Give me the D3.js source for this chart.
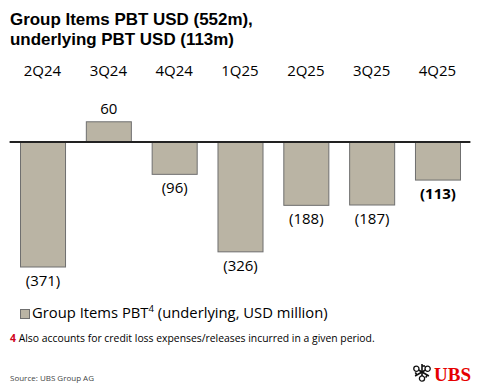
<!DOCTYPE html>
<html><head><meta charset="utf-8">
<script src="https://cdn.jsdelivr.net/npm/d3@7"></script>
<style>
html,body{margin:0;padding:0;background:#fff;}
svg{display:block;font-family:"Open Sans","Noto Sans",sans-serif;}
</style></head>
<body>
<svg id="c" width="480" height="392"></svg>
<script>
const categories = ["2Q24","3Q24","4Q24","1Q25","2Q25","3Q25","4Q25"];
const values = [-371, 60, -96, -326, -188, -187, -113];
const valueLabels = ["(371)","60","(96)","(326)","(188)","(187)","(113)"];
const boldLabel = [false,false,false,false,false,false,true];
const titleLines = ["Group Items PBT USD (552m),","underlying PBT USD (113m)"];
const legendLabel = "Group Items PBT";
const legendSup = "4";
const legendRest = " (underlying, USD million)";
const footNum = "4";
const footText = "Also accounts for credit loss expenses/releases incurred in a given period.";
const sourceText = "Source: UBS Group AG";

const svg = d3.select("#c");
const barFill = "#bab4a4", barStroke = "#6f6f6f";

function fit(sel, target){
  const fs = +sel.attr("font-size");
  const w = sel.node().getComputedTextLength();
  if (w > 0) sel.attr("font-size", fs*target/w);
}

// title
const titleFont = "'Liberation Sans',Arial,sans-serif";
const t1 = svg.append("text").attr("x",10).attr("y",24.5)
  .attr("font-family",titleFont).attr("font-size",18).attr("font-weight","bold").attr("fill","#000").text(titleLines[0]);
fit(t1, 243);
svg.append("text").attr("x",10).attr("y",45)
  .attr("font-family",titleFont).attr("font-size",t1.attr("font-size")).attr("font-weight","bold").attr("fill","#000").text(titleLines[1]);

const x = d3.scaleBand().domain(categories).range([9.6,470.4]).paddingInner(0.316).paddingOuter(0.158);
const k = 125/371;
const y = d3.scaleLinear().domain([-400,100]).range([142+400*k, 142-100*k]);

// category labels
svg.selectAll("text.cat").data(categories).join("text")
  .attr("class","cat")
  .attr("x",d=>x(d)+x.bandwidth()/2).attr("y",76)
  .attr("text-anchor","middle").attr("font-size",15).attr("fill","#000")
  .text(d=>d);

// bars
svg.selectAll("rect.bar").data(values).join("rect")
  .attr("class","bar")
  .attr("x",(d,i)=>x(categories[i])+0.5)
  .attr("y",d=>y(Math.max(0,d)))
  .attr("width",x.bandwidth())
  .attr("height",d=>Math.abs(y(d)-y(0)))
  .attr("fill",barFill).attr("stroke",barStroke).attr("stroke-width",1);

// zero line
svg.append("line").attr("x1",x.range()[0]).attr("x2",x.range()[1])
  .attr("y1",y(0)).attr("y2",y(0)).attr("stroke","#222").attr("stroke-width",2);

// value labels
svg.selectAll("text.val").data(values).join("text")
  .attr("class","val")
  .attr("x",(d,i)=>x(categories[i])+x.bandwidth()/2+0.5)
  .attr("y",d=>d>=0 ? y(d)-8 : y(d)+19)
  .attr("text-anchor","middle").attr("font-size",15)
  .attr("font-weight",(d,i)=>boldLabel[i]?"bold":"normal")
  .attr("fill","#000")
  .text((d,i)=>valueLabels[i]);

// legend
svg.append("rect").attr("x",20.5).attr("y",309.5).attr("width",9).attr("height",9)
  .attr("fill",barFill).attr("stroke",barStroke).attr("stroke-width",1);
const lt = svg.append("text").attr("x",32).attr("y",318).attr("font-size",17).attr("fill","#000");
lt.append("tspan").text(legendLabel);
lt.append("tspan").attr("font-size",11).attr("dy",-6).text(legendSup);
lt.append("tspan").attr("dy",6).text(legendRest);
{
  const w = lt.node().getComputedTextLength();
  const s = 296/w;
  lt.attr("font-size",17*s);
  lt.selectAll("tspan").filter((d,i)=>i===1).attr("font-size",11*s);
}

// footnote
const ft = svg.append("text").attr("x",10).attr("y",342).attr("font-size",11.5).attr("fill","#000");
ft.append("tspan").attr("fill","#d0021b").attr("font-weight","bold").text(footNum);
ft.append("tspan").text(" "+footText);
fit(ft, 365);

// source
svg.append("text").attr("x",10).attr("y",381).attr("font-size",8).attr("fill","#444").text(sourceText);

// logo
svg.append("text").attr("x",471).attr("y",381).attr("text-anchor","end")
  .attr("font-family","'Liberation Serif','DejaVu Serif',serif").attr("font-weight","bold")
  .attr("font-size",19).attr("fill","#e60000").text("UBS");
const g = svg.append("g").attr("transform","translate(422,372)").attr("stroke","#111").attr("fill","none").attr("stroke-width",1.6);
[-90,30,150].forEach(a=>{
  const r=a*Math.PI/180;
  g.append("line").attr("x1",Math.cos(r)*-4).attr("y1",Math.sin(r)*-4).attr("x2",Math.cos(r)*8).attr("y2",Math.sin(r)*8);
  g.append("circle").attr("cx",Math.cos(r)*-6.5).attr("cy",Math.sin(r)*-6.5).attr("r",2.6).attr("stroke-width",1.3);
  g.append("line").attr("x1",Math.cos(r)*6).attr("y1",Math.sin(r)*6)
   .attr("x2",Math.cos(r)*6+Math.cos(r+Math.PI/2)*3).attr("y2",Math.sin(r)*6+Math.sin(r+Math.PI/2)*3);
});
</script>
</body></html>
